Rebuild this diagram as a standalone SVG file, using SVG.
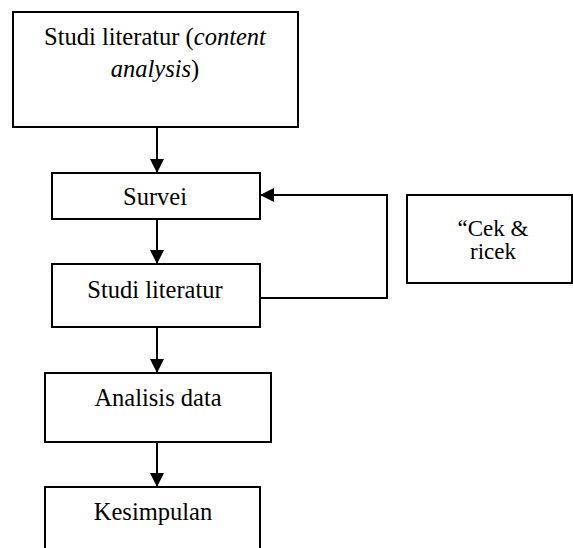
<svg xmlns="http://www.w3.org/2000/svg" width="573" height="548" viewBox="0 0 573 548">
<style>
.box{fill:#fff;stroke:#000;stroke-width:2}
.t{font-family:"Liberation Serif","DejaVu Serif","Times New Roman",serif;font-size:24.5px;fill:#000;text-anchor:middle}
.c{fill:none;stroke:#000;stroke-width:2}
</style>
<defs>
<marker id="ah" markerWidth="14" markerHeight="16" refX="14" refY="8" orient="auto" markerUnits="userSpaceOnUse">
<path d="M0,1 L14,8 L0,15 Z" fill="#000"/>
</marker>
</defs>
<rect width="573" height="548" fill="#fff"/>
<g id="connectors">
<line class="c" x1="157" y1="127" x2="157" y2="173" marker-end="url(#ah)"/>
<line class="c" x1="157" y1="219" x2="157" y2="264" marker-end="url(#ah)"/>
<polyline class="c" points="260,298 387,298 387,195 260,195" marker-end="url(#ah)"/>
<line class="c" x1="157" y1="327" x2="157" y2="373" marker-end="url(#ah)"/>
<line class="c" x1="157" y1="442" x2="157" y2="487" marker-end="url(#ah)"/>
</g>
<g id="n1">
<rect class="box" x="13" y="12" width="285" height="115"/>
<text class="t" x="155" y="45">Studi literatur (<tspan font-style="italic">content</tspan></text>
<text class="t" x="155" y="77"><tspan font-style="italic">analysis</tspan>)</text>
</g>
<g id="n2">
<rect class="box" x="52" y="173" width="208" height="46"/>
<text class="t" x="155" y="205">Survei</text>
</g>
<g id="n3">
<rect class="box" x="52" y="264" width="208" height="63"/>
<text class="t" x="155" y="298">Studi literatur</text>
</g>
<g id="n4">
<rect class="box" x="407" y="195" width="165" height="88"/>
<text class="t" x="493" y="236" style="font-size:23px">“Cek &amp;</text>
<text class="t" x="493" y="259" style="font-size:23px">ricek</text>
</g>
<g id="n5">
<rect class="box" x="45" y="373" width="226" height="69"/>
<text class="t" x="158" y="406">Analisis data</text>
</g>
<g id="n6">
<rect class="box" x="45" y="487" width="215" height="70"/>
<text class="t" x="153" y="520">Kesimpulan</text>
</g>
</svg>
